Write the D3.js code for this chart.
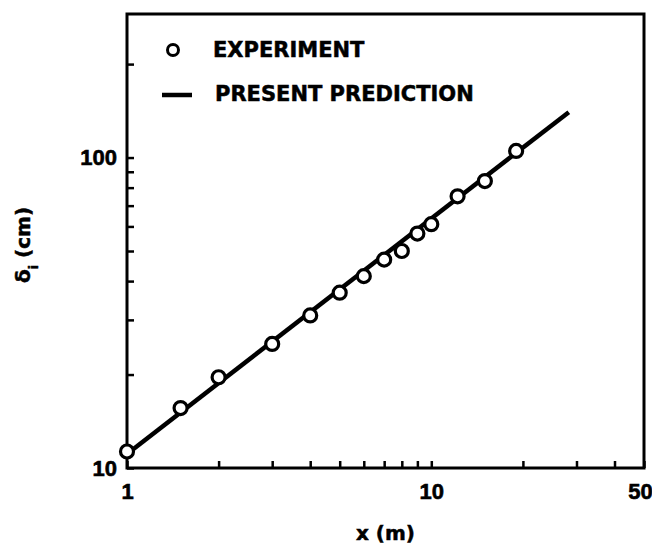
<!DOCTYPE html>
<html>
<head>
<meta charset="utf-8">
<script src="https://cdn.jsdelivr.net/npm/d3@7"></script>
<style>
  body { margin: 0; background: #fff; }
  svg { display: block; }
  .tick line { stroke: #000; stroke-width: 2.5; }
  .tick text { font-family: "Liberation Sans", Arial, sans-serif; font-weight: bold; font-size: 22px; fill: #000; stroke: #000; stroke-width: 0.6; }
  .lbl { font-family: "DejaVu Sans", sans-serif; font-weight: bold; fill: #000; stroke: #000; stroke-width: 0.5; }
</style>
</head>
<body>
<div id="chart"></div>
<script>
// experiment points, x (m) vs delta_i (cm)
var expX = [1.0, 1.5, 2.0, 3.0, 4.0, 5.0, 6.0, 7.0, 8.0, 9.0, 10.0, 12.2, 15.0, 19.0];
var expY = [11.3, 15.6, 19.6, 25.1, 31.0, 36.7, 41.5, 46.9, 50.0, 56.9, 61.0, 75.0, 84.0, 105.0];

// present prediction (straight line on log-log)
var lineX = [1.0, 28.3];
var lineY = [11.1, 140.0];

var xTicks = [1, 2, 3, 4, 5, 6, 7, 8, 9, 10, 20, 30, 40, 50],
    xLabels = [1, 10, 50];
var yTicks = [10, 20, 30, 40, 50, 60, 70, 80, 90, 100, 200],
    yLabels = [10, 100];

var margin = { top: 14, right: 8, bottom: 79, left: 127 },
    width = 652 - margin.left - margin.right,
    height = 547 - margin.top - margin.bottom;

var x = d3.scaleLog()
    .domain([1, 50])
    .range([0, width]);

var y = d3.scaleLog()
    .domain([10, 290])
    .range([height, 0]);

var svg = d3.select("#chart").append("svg")
    .attr("width", 652)
    .attr("height", 547)
  .append("g")
    .attr("transform", "translate(" + margin.left + "," + margin.top + ")");

// Axes
var xAxis = d3.axisBottom(x)
    .tickValues(xTicks)
    .tickSize(-7)
    .tickPadding(15)
    .tickFormat(d => xLabels.indexOf(d) >= 0 ? d : "");
svg.append("g")
    .attr("transform", "translate(0," + height + ")")
    .call(xAxis)
    .call(g => g.select(".domain").remove())
    .call(g => g.selectAll(".tick text").filter(d => d == 50).attr("dx", "-4"));

var yAxis = d3.axisLeft(y)
    .tickValues(yTicks)
    .tickSize(-7)
    .tickPadding(10)
    .tickFormat(d => yLabels.indexOf(d) >= 0 ? d : "");
svg.append("g")
    .call(yAxis)
    .call(g => g.select(".domain").remove());

// Frame
svg.append("rect")
    .attr("width", width)
    .attr("height", height)
    .attr("fill", "none")
    .attr("stroke", "#000")
    .attr("stroke-width", 3);

// Axis titles
svg.append("text")
    .attr("class", "lbl")
    .attr("x", width / 2)
    .attr("y", height + 72)
    .attr("text-anchor", "middle")
    .style("font-size", "20px")
    .text("x (m)");

var yt = svg.append("text")
    .attr("class", "lbl")
    .attr("transform", "translate(" + (-97) + "," + (height / 2 + 4) + ") rotate(-90)")
    .attr("text-anchor", "middle")
    .style("font-size", "20px");
yt.append("tspan").text("δ");
yt.append("tspan").attr("baseline-shift", "sub").style("font-size", "13px").text("i");
yt.append("tspan").text(" (cm)");

// Prediction line
var line = d3.line()
    .x(function(d) { return x(d[0]); })
    .y(function(d) { return y(d[1]); });

svg.append("path")
    .datum(lineX.map(function(v, i) { return [v, lineY[i]]; }))
    .attr("d", line)
    .attr("fill", "none")
    .attr("stroke", "#000")
    .attr("stroke-width", 4.5);

// Experiment circles
svg.selectAll("circle.exp")
    .data(expX)
  .enter().append("circle")
    .attr("class", "exp")
    .attr("cx", function(d) { return x(d); })
    .attr("cy", function(d, i) { return y(expY[i]); })
    .attr("r", 6.5)
    .attr("fill", "#fff")
    .attr("stroke", "#000")
    .attr("stroke-width", 3.2);

// Legend
var legend = svg.append("g").attr("transform", "translate(46,36)");
legend.append("circle")
    .attr("cx", 0)
    .attr("cy", 0)
    .attr("r", 5.5)
    .attr("fill", "#fff")
    .attr("stroke", "#000")
    .attr("stroke-width", 3);
legend.append("text")
    .attr("class", "lbl")
    .attr("x", 40)
    .attr("y", 7)
    .style("font-size", "21px")
    .text("EXPERIMENT");
legend.append("line")
    .attr("x1", -11).attr("x2", 19)
    .attr("y1", 45).attr("y2", 45)
    .attr("stroke", "#000")
    .attr("stroke-width", 4.5);
legend.append("text")
    .attr("class", "lbl")
    .attr("x", 42)
    .attr("y", 51)
    .style("font-size", "21px")
    .text("PRESENT PREDICTION");
</script>
</body>
</html>
